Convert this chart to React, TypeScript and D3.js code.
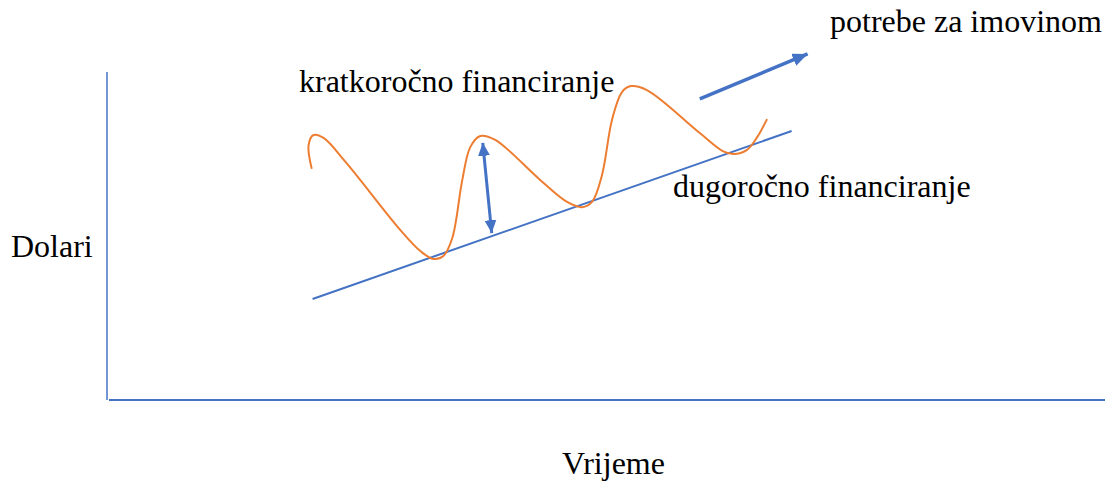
import React from "react";
import * as d3 from "d3";

// time (x) and dollars (y) on a 0..100 scale
const needTime = [20.5, 20.2, 20.7, 21.7, 23.9, 29.4, 31.4, 32.7, 33.7, 34.6, 35.6, 36.4, 37.4, 38.9, 43.4, 46.1, 47.6, 48.6, 49.6, 50.6, 51.6, 52.5, 54.1, 59.4, 61.7, 62.8, 64.1, 65.1, 66.1];
const needValue = [70.7, 77.7, 80.8, 79.9, 72.6, 51.8, 45.4, 43.0, 43.9, 49.4, 67.1, 77.1, 80.5, 79.3, 67.1, 60.4, 58.8, 60.4, 68.6, 85.4, 93.9, 95.7, 94.5, 81.4, 75.9, 75.0, 76.2, 79.9, 85.4];

const trendTime = [20.6, 68.6];
const trendValue = [30.8, 82.0];

const gapTime = [37.65, 38.55];
const gapValue = [78.4, 50.9];

const growthTime = [59.4, 70.2];
const growthValue = [91.8, 105.5];

const labels = [
  { text: "potrebe za imovinom", x: 830, y: 32 },
  { text: "kratkoročno financiranje", x: 299, y: 92 },
  { text: "dugoročno financiranje", x: 673, y: 197 },
  { text: "Dolari", x: 11, y: 257 },
  { text: "Vrijeme", x: 562, y: 474 },
];

const width = 1110;
const height = 486;
const blue = "#4472C4";
const orange = "#ED7D31";

export default function App() {
  const x = d3.scaleLinear().domain([0, 100]).range([107, 1105]);
  const y = d3.scaleLinear().domain([0, 100]).range([400, 72]);

  const pts = (xs: number[], ys: number[]) => xs.map((d, i) => [x(d), y(ys[i])] as [number, number]);

  const curve = d3.line().curve(d3.curveCatmullRom.alpha(0.5))(pts(needTime, needValue)) ?? "";
  const straight = d3.line();

  return (
    <svg width={width} height={height} style={{ position: "absolute", left: 0, top: 0, background: "#fff" }}>
      <defs>
        <marker id="head" markerUnits="userSpaceOnUse" markerWidth={13} markerHeight={12} refX={13} refY={6} orient="auto-start-reverse">
          <path d="M0,0L13,6L0,12Z" fill={blue} />
        </marker>
        <marker id="bighead" markerUnits="userSpaceOnUse" markerWidth={15} markerHeight={13} refX={15} refY={6.5} orient="auto">
          <path d="M0,0L15,6.5L0,13Z" fill={blue} />
        </marker>
      </defs>

      {/* axes */}
      <line x1={x(0)} x2={x(0)} y1={y(0)} y2={y(100)} stroke={blue} strokeWidth={1.5} />
      <line x1={x(0) + 2} x2={x(100)} y1={y(0)} y2={y(0)} stroke={blue} strokeWidth={2} />

      {/* long-term financing trend */}
      <path d={straight(pts(trendTime, trendValue)) ?? ""} stroke={blue} strokeWidth={2} fill="none" />

      {/* asset needs */}
      <path d={curve} stroke={orange} strokeWidth={2} fill="none" strokeLinecap="round" />

      {/* short-term gap */}
      <path d={straight(pts(gapTime, gapValue)) ?? ""} stroke={blue} strokeWidth={3} fill="none"
        markerStart="url(#head)" markerEnd="url(#head)" />

      {/* growth arrow */}
      <path d={straight(pts(growthTime, growthValue)) ?? ""} stroke={blue} strokeWidth={3.5} fill="none"
        markerEnd="url(#bighead)" />

      {labels.map((l) => (
        <text key={l.text} x={l.x} y={l.y} fontFamily="'Liberation Serif', 'Times New Roman', serif" fontSize={32} fill="#000">
          {l.text}
        </text>
      ))}
    </svg>
  );
}
